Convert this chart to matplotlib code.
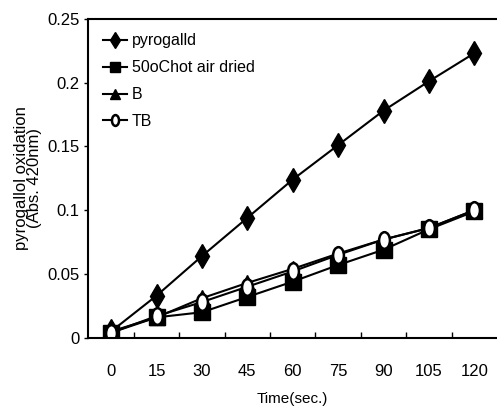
import matplotlib
matplotlib.use("Agg")
import matplotlib.pyplot as plt
from matplotlib.path import Path
from matplotlib.transforms import Affine2D

plt.rcParams['font.family'] = ['Liberation Sans', 'DejaVu Sans']

time_labels = ['0', '15', '30', '45', '60', '75', '90', '105', '120']
pyrogallol = [0.005, 0.033, 0.064, 0.094, 0.124, 0.151, 0.178, 0.201, 0.223]
hot_air = [0.004, 0.016, 0.020, 0.032, 0.044, 0.057, 0.069, 0.085, 0.099]
b_vals = [0.005, 0.016, 0.031, 0.043, 0.054, 0.066, 0.077, 0.086, 0.100]
tb_vals = [0.004, 0.017, 0.028, 0.040, 0.052, 0.065, 0.077, 0.086, 0.100]
y_ticks = [0, 0.05, 0.1, 0.15, 0.2, 0.25]
y_tick_labels = ['0', '0.05', '0.1', '0.15', '0.2', '0.25']

ellipse = Path.unit_circle().transformed(Affine2D().scale(0.65, 1.0))

fig = plt.figure(figsize=(4.97, 4.17), dpi=100)
ax = fig.add_axes([0.178, 0.19, 0.822, 0.765])

x = list(range(len(time_labels)))
ax.plot(x, pyrogallol, color='black', lw=1.5, marker='d', ms=12, mfc='black', mec='black', label='pyrogalld')
ax.plot(x, hot_air, color='black', lw=1.5, marker='s', ms=11, mfc='black', mec='black', label='50oChot air dried')
ax.plot(x, b_vals, color='black', lw=1.5, marker='^', ms=11, mfc='black', mec='black', label='B')
ax.plot(x, tb_vals, color='black', lw=1.5, marker=ellipse, ms=12, mfc='white', mec='black', mew=1.8, label='TB')

ax.set_xlim(-0.5, 8.5)
ax.set_ylim(0, 0.25)
ax.set_xticks(x)
ax.set_xticklabels(time_labels, fontsize=12)
ax.set_xticks([i + 0.5 for i in range(8)], minor=True)
ax.tick_params(axis='x', which='major', length=0, pad=19)
ax.tick_params(axis='x', which='minor', direction='in', length=4, width=1)
ax.set_yticks(y_ticks)
ax.set_yticklabels(y_tick_labels, fontsize=12)
ax.tick_params(axis='y', direction='out', length=3, width=1)

ax.spines['right'].set_visible(False)
for s in ['left', 'bottom', 'top']:
    ax.spines[s].set_linewidth(1.5)

ax.set_xlabel('Time(sec.)', fontsize=11, labelpad=9)
ax.set_ylabel('pyrogallol oxidation\n(Abs. 420nm)', fontsize=12, linespacing=0.8, labelpad=4)

ax.legend(loc='upper left', bbox_to_anchor=(0.0, 1.0), frameon=False, fontsize=11.5,
          handlelength=1.5, handletextpad=0.3, labelspacing=0.75, borderaxespad=0.5,
          markerscale=0.65)

fig.savefig('out.png', dpi=100)
